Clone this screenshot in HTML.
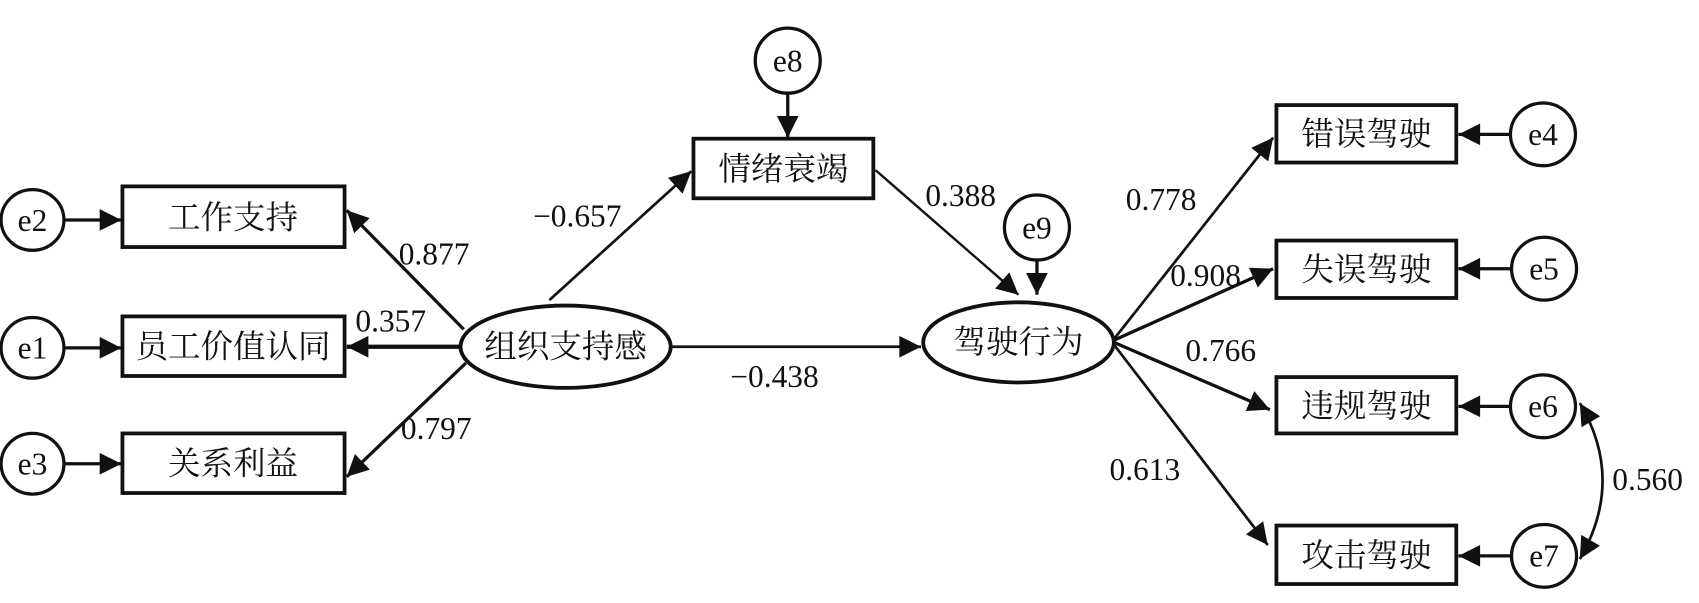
<!DOCTYPE html>
<html><head><meta charset="utf-8"><style>
html,body{margin:0;padding:0;background:#fff;}
svg{display:block;}
text{font-family:"Liberation Serif","Noto Serif CJK SC",serif;fill:#111;}
.cn{font-size:30px;}
.num{font-size:29px;}
</style></head><body>
<svg width="1699" height="603" viewBox="0 0 1568 556.5" preserveAspectRatio="none" xmlns="http://www.w3.org/2000/svg">
<defs>
<marker id="as" viewBox="0 0 10 10" refX="10" refY="5" markerWidth="24" markerHeight="20" markerUnits="userSpaceOnUse" orient="auto">
<path d="M0,0 L10,5 L0,10 z" fill="#111"/>
</marker>
<marker id="asr" viewBox="0 0 10 10" refX="0" refY="5" markerWidth="24" markerHeight="20" markerUnits="userSpaceOnUse" orient="auto">
<path d="M10,0 L0,5 L10,10 z" fill="#111"/>
</marker>
</defs>
<g stroke="#111" fill="none">
<ellipse cx="30" cy="203" rx="29" ry="28" stroke-width="3"/>
<ellipse cx="30" cy="321" rx="29" ry="28" stroke-width="3"/>
<ellipse cx="30" cy="428" rx="29" ry="28" stroke-width="3"/>
<rect x="113" y="172" width="205" height="56" stroke-width="3.5"/>
<rect x="113" y="292" width="205" height="55" stroke-width="3.5"/>
<rect x="113" y="400" width="205" height="55" stroke-width="3.5"/>
<line x1="59" y1="203" x2="112" y2="203" stroke-width="3" marker-end="url(#as)"/>
<line x1="59" y1="321" x2="112" y2="321" stroke-width="3" marker-end="url(#as)"/>
<line x1="59" y1="428" x2="112" y2="428" stroke-width="3" marker-end="url(#as)"/>
<ellipse cx="522" cy="320" rx="97" ry="38" stroke-width="3.5"/>
<line x1="428" y1="304" x2="320" y2="194" stroke-width="3" marker-end="url(#as)"/>
<line x1="425" y1="320" x2="320" y2="320" stroke-width="4" marker-end="url(#as)"/>
<line x1="430" y1="335" x2="320" y2="440" stroke-width="3" marker-end="url(#as)"/>
<line x1="507" y1="277" x2="638" y2="158" stroke-width="2.5" marker-end="url(#as)"/>
<line x1="620" y1="320" x2="850" y2="320" stroke-width="2.5" marker-end="url(#as)"/>
<ellipse cx="727" cy="56" rx="30" ry="30" stroke-width="3"/>
<line x1="727" y1="87" x2="727" y2="127" stroke-width="3" marker-end="url(#as)"/>
<rect x="640" y="128" width="166" height="55" stroke-width="3.5"/>
<line x1="808" y1="157" x2="940" y2="272" stroke-width="2.2" marker-end="url(#as)"/>
<ellipse cx="957" cy="210" rx="30" ry="30" stroke-width="3"/>
<line x1="957" y1="240" x2="957" y2="272" stroke-width="3" marker-end="url(#as)"/>
<ellipse cx="940" cy="316" rx="88" ry="37" stroke-width="3.5"/>
<line x1="1028" y1="313" x2="1175" y2="127" stroke-width="2.5" marker-end="url(#as)"/>
<line x1="1028" y1="314" x2="1175" y2="248" stroke-width="3" marker-end="url(#as)"/>
<line x1="1028" y1="316" x2="1172" y2="378" stroke-width="3" marker-end="url(#as)"/>
<line x1="1028" y1="318" x2="1170" y2="503" stroke-width="2.5" marker-end="url(#as)"/>
<rect x="1178" y="97" width="166" height="53" stroke-width="3.5"/>
<rect x="1178" y="222" width="166" height="53" stroke-width="3.5"/>
<rect x="1178" y="348" width="166" height="52" stroke-width="3.5"/>
<rect x="1178" y="485" width="166" height="54" stroke-width="3.5"/>
<ellipse cx="1424" cy="124" rx="30" ry="29" stroke-width="3"/>
<ellipse cx="1425" cy="248" rx="30" ry="29" stroke-width="3"/>
<ellipse cx="1424" cy="375" rx="30" ry="29" stroke-width="3"/>
<ellipse cx="1425" cy="513" rx="30" ry="29" stroke-width="3"/>
<line x1="1394" y1="124" x2="1346" y2="124" stroke-width="3" marker-end="url(#as)"/>
<line x1="1395" y1="248" x2="1346" y2="248" stroke-width="3" marker-end="url(#as)"/>
<line x1="1394" y1="375" x2="1346" y2="375" stroke-width="3" marker-end="url(#as)"/>
<line x1="1395" y1="513" x2="1346" y2="513" stroke-width="3" marker-end="url(#as)"/>
<path d="M1458,372 Q1500,443 1458,516" stroke-width="2.5" marker-start="url(#asr)" marker-end="url(#as)"/>
</g>
<g>
<text x="30" y="213" class="num" text-anchor="middle">e2</text>
<text x="30" y="331" class="num" text-anchor="middle">e1</text>
<text x="30" y="438" class="num" text-anchor="middle">e3</text>
<text x="727" y="66" class="num" text-anchor="middle">e8</text>
<text x="957" y="220" class="num" text-anchor="middle">e9</text>
<text x="1424" y="134" class="num" text-anchor="middle">e4</text>
<text x="1425" y="258" class="num" text-anchor="middle">e5</text>
<text x="1424" y="385" class="num" text-anchor="middle">e6</text>
<text x="1425" y="523" class="num" text-anchor="middle">e7</text>
<text x="215" y="211" class="cn" text-anchor="middle">工作支持</text>
<text x="215" y="330" class="cn" text-anchor="middle">员工价值认同</text>
<text x="215" y="438" class="cn" text-anchor="middle">关系利益</text>
<text x="522" y="330" class="cn" text-anchor="middle">组织支持感</text>
<text x="723" y="166" class="cn" text-anchor="middle">情绪衰竭</text>
<text x="940" y="326" class="cn" text-anchor="middle">驾驶行为</text>
<text x="1261" y="134" class="cn" text-anchor="middle">错误驾驶</text>
<text x="1261" y="259" class="cn" text-anchor="middle">失误驾驶</text>
<text x="1261" y="385" class="cn" text-anchor="middle">违规驾驶</text>
<text x="1261" y="523" class="cn" text-anchor="middle">攻击驾驶</text>
<text x="368" y="244" class="num">0.877</text>
<text x="328" y="306" class="num">0.357</text>
<text x="370" y="405" class="num">0.797</text>
<text x="492" y="209" class="num">−0.657</text>
<text x="674" y="357" class="num">−0.438</text>
<text x="854" y="190" class="num">0.388</text>
<text x="1039" y="194" class="num">0.778</text>
<text x="1080" y="264" class="num">0.908</text>
<text x="1094" y="333" class="num">0.766</text>
<text x="1024" y="443" class="num">0.613</text>
<text x="1488" y="452" class="num">0.560</text>
</g>
</svg>
</body></html>
